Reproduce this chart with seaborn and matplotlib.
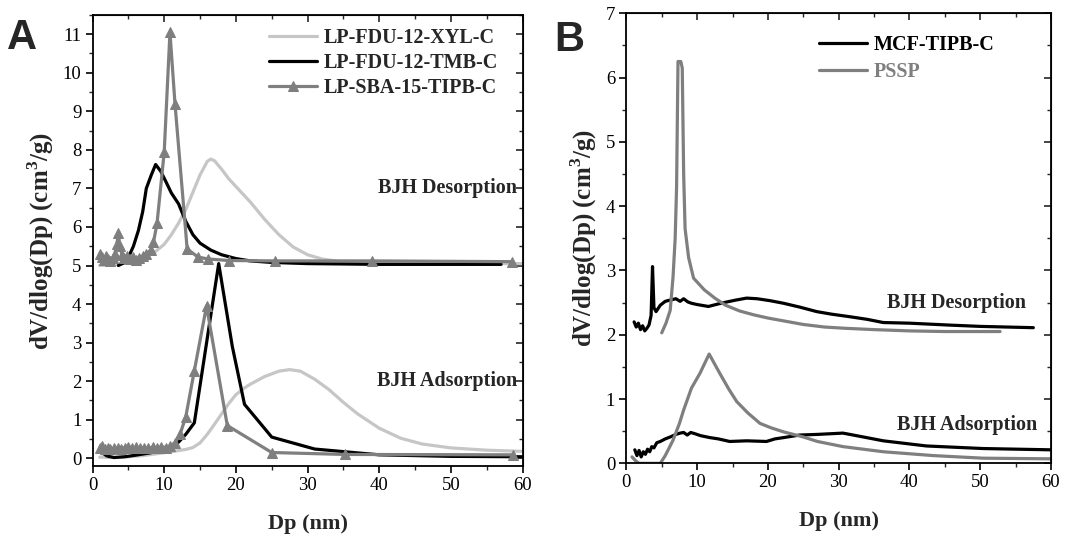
import numpy as np
import pandas as pd
import seaborn as sns
import matplotlib.pyplot as plt
from matplotlib.ticker import MultipleLocator

# ---------------- panel A data (desorption curves are offset by +5) ----------------
xyl_des_x = [1, 3, 5, 7, 8.5, 10, 11, 12, 13, 14, 15, 16, 16.5, 17, 18, 19, 20, 21, 22, 24,
             26, 28, 30, 32, 35, 40, 45, 50, 55, 60]
xyl_des_y = [5.00, 5.02, 5.08, 5.20, 5.32, 5.55, 5.80, 6.10, 6.45, 6.90, 7.35, 7.70, 7.76, 7.72,
             7.50, 7.25, 7.05, 6.85, 6.65, 6.20, 5.80, 5.48, 5.28, 5.17, 5.09, 5.06, 5.05, 5.05,
             5.05, 5.05]
tmb_des_x = [3.6, 4.5, 5.0, 5.7, 6.4, 7.0, 7.5, 8.2, 8.8, 9.5, 10.3, 11.0, 12.0, 13.0, 14.0,
             15.0, 16.5, 18, 20, 22, 25, 30, 35, 40, 50, 57]
tmb_des_y = [5.00, 5.08, 5.21, 5.50, 5.91, 6.40, 7.00, 7.35, 7.62, 7.45, 7.15, 6.88, 6.60, 6.15,
             5.80, 5.58, 5.40, 5.28, 5.18, 5.12, 5.08, 5.05, 5.04, 5.03, 5.03, 5.03]
tipb_des_x = [1.0, 1.3, 1.6, 1.9, 2.2, 2.5, 2.8, 3.1, 3.4, 3.6, 3.8, 4.1, 4.4, 4.8, 5.2, 5.6,
              6.0, 6.5, 7.0, 7.5, 8.1, 8.5, 9.0, 10.0, 10.8, 11.5, 13.2, 14.7, 16.1, 19.0, 25.5,
              39.0, 58.5]
tipb_des_y = [5.30, 5.22, 5.15, 5.25, 5.18, 5.12, 5.20, 5.30, 5.55, 5.85, 5.50, 5.28, 5.20, 5.25,
              5.18, 5.22, 5.15, 5.20, 5.25, 5.30, 5.40, 5.60, 6.10, 7.95, 11.05, 9.20, 5.43, 5.22,
              5.17, 5.13, 5.12, 5.12, 5.10]

xyl_ads_x = [1, 3, 5, 7, 9, 11, 13, 14, 15, 16, 17, 18, 19, 20, 21, 22, 24, 26, 27.5, 29, 31,
             33, 35, 37, 40, 43, 46, 50, 55, 60]
xyl_ads_y = [0.03, 0.02, 0.04, 0.07, 0.12, 0.17, 0.23, 0.28, 0.40, 0.62, 0.88, 1.15, 1.42, 1.65,
             1.80, 1.92, 2.12, 2.26, 2.30, 2.26, 2.05, 1.78, 1.45, 1.15, 0.78, 0.52, 0.37, 0.27,
             0.21, 0.18]
tmb_ads_x = [1.3, 2.0, 3.0, 4.5, 6.0, 8.0, 10.0, 11.0, 12.0, 13.0, 14.2, 17.6, 19.5, 21.2, 25.0,
             31.0, 40.0, 50.0, 60.0]
tmb_ads_y = [0.15, 0.06, 0.02, 0.04, 0.08, 0.14, 0.22, 0.30, 0.42, 0.62, 0.92, 5.05, 2.90, 1.40,
             0.55, 0.24, 0.09, 0.05, 0.04]
tipb_ads_x = [1.0, 1.3, 1.7, 2.1, 2.5, 3.0, 3.5, 4.0, 4.5, 5.0, 5.5, 6.0, 6.6, 7.2, 7.8, 8.4,
              9.0, 9.6, 10.2, 10.8, 11.5, 12.2, 13.0, 14.2, 15.9, 18.8, 25.0, 35.2, 58.7]
tipb_ads_y = [0.28, 0.32, 0.25, 0.27, 0.24, 0.26, 0.27, 0.25, 0.28, 0.30, 0.27, 0.29, 0.27, 0.28,
              0.26, 0.29, 0.27, 0.30, 0.28, 0.32, 0.40, 0.62, 1.07, 2.27, 3.95, 0.85, 0.15, 0.10,
              0.09]

# ---------------- panel B data ----------------
mcf_des_x = [1.1, 1.4, 1.7, 2.0, 2.3, 2.6, 2.9, 3.2, 3.5, 3.7, 3.9, 4.2, 4.8, 5.5, 6.2, 7.0, 7.6,
             8.1, 8.7, 9.2, 10.0, 11.6, 13.0, 14.2, 15.5, 17.0, 18.5, 20.3, 22.2, 24.5, 26.9, 29.0,
             31.6, 34.0, 36.3, 40.0, 45.7, 50.0, 57.5]
mcf_des_y = [2.20, 2.12, 2.18, 2.08, 2.14, 2.06, 2.10, 2.15, 2.30, 3.06, 2.42, 2.36, 2.46, 2.52,
             2.54, 2.56, 2.52, 2.56, 2.51, 2.49, 2.47, 2.44, 2.48, 2.51, 2.54, 2.57, 2.56, 2.53,
             2.49, 2.43, 2.36, 2.32, 2.28, 2.24, 2.19, 2.18, 2.15, 2.13, 2.11]
pssp_des_x = [5.0, 5.6, 6.2, 6.6, 6.9, 7.1, 7.3, 7.7, 7.9, 8.1, 8.3, 8.8, 9.5, 11.0, 12.5, 14.0,
              16.0, 18.0, 20.0, 22.5, 25.0, 28.0, 31.0, 35.0, 40.0, 45.0, 52.8]
pssp_des_y = [2.03, 2.18, 2.38, 2.90, 3.50, 4.30, 6.25, 6.25, 6.15, 4.50, 3.65, 3.20, 2.88, 2.70,
              2.57, 2.46, 2.37, 2.31, 2.26, 2.21, 2.16, 2.12, 2.10, 2.08, 2.06, 2.05, 2.05]
mcf_ads_x = [1.2, 1.5, 1.8, 2.1, 2.4, 2.7, 3.0, 3.3, 3.6, 3.9, 4.3, 4.8, 5.5, 6.2, 7.0, 7.6, 8.1,
             8.6, 9.1, 9.7, 10.5, 11.8, 13.0, 14.6, 17.0, 19.8, 21.0, 22.2, 24.5, 27.0, 30.6, 33.0,
             36.3, 42.4, 50.4, 60.0]
mcf_ads_y = [0.21, 0.12, 0.20, 0.10, 0.18, 0.14, 0.22, 0.18, 0.26, 0.24, 0.32, 0.34, 0.38, 0.41,
             0.45, 0.47, 0.48, 0.44, 0.48, 0.46, 0.43, 0.40, 0.38, 0.34, 0.35, 0.34, 0.38, 0.40,
             0.44, 0.45, 0.47, 0.42, 0.35, 0.27, 0.23, 0.21]
pssp_ads_x = [0.8, 1.3, 1.8, 3.0, 4.8, 5.5, 6.6, 7.5, 8.1, 9.2, 10.4, 11.7, 13.2, 14.5, 15.6, 17.2,
              18.9, 20.5, 22.2, 25.0, 27.0, 30.6, 36.3, 43.4, 50.4, 60.0]
pssp_ads_y = [0.10, 0.04, 0.00, 0.00, 0.00, 0.12, 0.36, 0.62, 0.83, 1.17, 1.40, 1.70, 1.40, 1.15,
              0.96, 0.78, 0.62, 0.55, 0.49, 0.41, 0.34, 0.26, 0.18, 0.12, 0.08, 0.07]

LIGHT, DARK = '#c6c6c6', '#7f7f7f'
LW = 2.3

sns.set_style("ticks")
plt.rcParams['font.family'] = ['Liberation Serif', 'DejaVu Serif']
plt.rcParams['mathtext.fontset'] = 'custom'
plt.rcParams['mathtext.bf'] = 'Liberation Serif:bold'
plt.rcParams['mathtext.rm'] = 'Liberation Serif'

fig = plt.figure(figsize=(10.65, 5.37), dpi=100)
axA = fig.add_axes([0.0869, 0.1322, 0.4038, 0.8400])
axB = fig.add_axes([0.5881, 0.1372, 0.3988, 0.8380])


def line(ax, x, y, color, label=None, marker=None):
    sns.lineplot(x=x, y=y, ax=ax, color=color, lw=LW, label=label, marker=marker,
                 markersize=6.5, markeredgecolor=color, sort=False, estimator=None, legend=False)


# panel A
line(axA, xyl_des_x, xyl_des_y, LIGHT, 'LP-FDU-12-XYL-C')
line(axA, tmb_des_x, tmb_des_y, 'black', 'LP-FDU-12-TMB-C')
line(axA, tipb_des_x, tipb_des_y, DARK, 'LP-SBA-15-TIPB-C', marker='^')
line(axA, xyl_ads_x, xyl_ads_y, LIGHT)
line(axA, tmb_ads_x, tmb_ads_y, 'black')
line(axA, tipb_ads_x, tipb_ads_y, DARK, marker='^')
axA.set_xlim(0, 60)
axA.set_ylim(-0.2, 11.5)
axA.yaxis.set_major_locator(MultipleLocator(1))
axA.yaxis.set_minor_locator(MultipleLocator(0.5))
axA.text(59.2, 7.0, 'BJH Desorption', ha='right', va='center', fontsize=14.5, fontweight='bold')
axA.text(59.2, 2.0, 'BJH Adsorption', ha='right', va='center', fontsize=14.5, fontweight='bold')

# panel B
line(axB, mcf_des_x, mcf_des_y, 'black', 'MCF-TIPB-C')
line(axB, pssp_des_x, pssp_des_y, DARK, 'PSSP')
line(axB, mcf_ads_x, mcf_ads_y, 'black')
line(axB, pssp_ads_x, pssp_ads_y, DARK)
axB.set_xlim(0, 60)
axB.set_ylim(0, 7)
axB.yaxis.set_major_locator(MultipleLocator(1))
axB.yaxis.set_minor_locator(MultipleLocator(0.5))
axB.text(56.5, 2.5, 'BJH Desorption', ha='right', va='center', fontsize=14.5, fontweight='bold')
axB.text(58.0, 0.6, 'BJH Adsorption', ha='right', va='center', fontsize=14.5, fontweight='bold')

for ax in (axA, axB):
    ax.xaxis.set_major_locator(MultipleLocator(10))
    ax.xaxis.set_minor_locator(MultipleLocator(5))
    for s in ax.spines.values():
        s.set_visible(True)
        s.set_linewidth(1.3)
        s.set_color('black')
    ax.tick_params(which='major', direction='out', length=5, width=1.2, labelsize=13.5,
                   colors='black', pad=3)
    ax.tick_params(which='minor', direction='out', length=3, width=1.0)
    # inward ticks on top and right, no labels
    top = ax.secondary_xaxis('top')
    top.xaxis.set_major_locator(MultipleLocator(10))
    top.xaxis.set_minor_locator(MultipleLocator(5))
    top.tick_params(which='major', direction='in', length=5, width=1.2, labeltop=False)
    top.tick_params(which='minor', direction='in', length=3, width=1.0)
    right = ax.secondary_yaxis('right')
    right.yaxis.set_major_locator(MultipleLocator(1))
    right.yaxis.set_minor_locator(MultipleLocator(0.5))
    right.tick_params(which='major', direction='in', length=5, width=1.2, labelright=False)
    right.tick_params(which='minor', direction='in', length=3, width=1.0)
    ax.set_xlabel('Dp (nm)', fontsize=16, fontweight='bold', labelpad=14)
    ax.set_ylabel(r'dV/dlog(Dp) (cm$^{\mathbf{3}}$/g)', fontsize=18, fontweight='bold', labelpad=5)

legA = axA.legend(loc='upper left', bbox_to_anchor=(269 / 1065, 1 - 28 / 537),
                  bbox_transform=fig.transFigure, frameon=False,
                  prop={'weight': 'bold', 'size': 14.5}, handlelength=2.4, handletextpad=0.3,
                  labelspacing=0.25, borderpad=0, borderaxespad=0)
legB = axB.legend(loc='upper left', bbox_to_anchor=(819 / 1065, 1 - 35 / 537),
                  bbox_transform=fig.transFigure, frameon=False,
                  prop={'weight': 'bold', 'size': 14.5}, handlelength=2.4, handletextpad=0.3,
                  labelspacing=0.35, borderpad=0, borderaxespad=0)
for txt, h in zip(legB.get_texts(), legB.legend_handles):
    txt.set_color(h.get_color())

fig.text(22 / 1065, 1 - 38 / 537, 'A', family='Liberation Sans', fontweight='bold', fontsize=30,
         ha='center', va='center')
fig.text(569 / 1065, 1 - 40 / 537, 'B', family='Liberation Sans', fontweight='bold', fontsize=30,
         ha='center', va='center')

fig.savefig('out.png', dpi=100)
